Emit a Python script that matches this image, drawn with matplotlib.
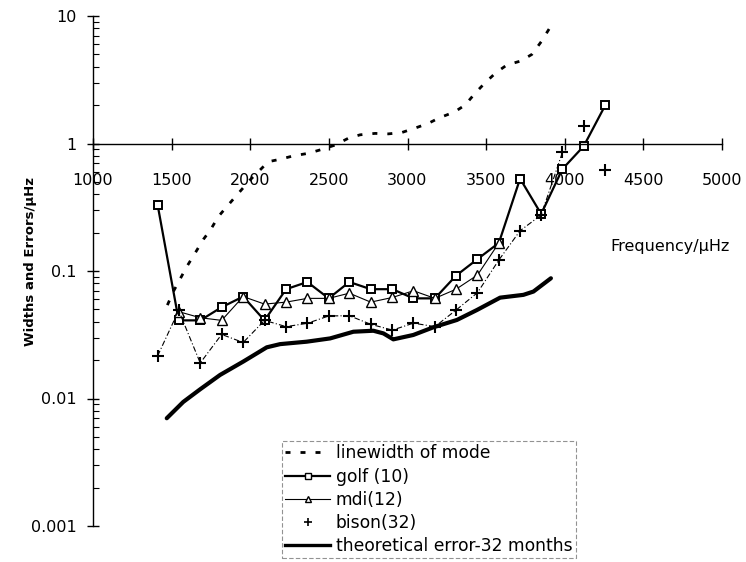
import matplotlib
matplotlib.use('Agg')
import matplotlib.pyplot as plt
from matplotlib.ticker import FixedLocator, FuncFormatter, LogLocator, NullFormatter
from matplotlib.lines import Line2D

# mode frequencies (uHz)
freq = [1411, 1545, 1682, 1818, 1955, 2091, 2228, 2363, 2499, 2630, 2766,
        2904, 3038, 3174, 3309, 3445, 3581, 3716, 3850, 3985, 4121, 4258]

golf = [0.33, 0.041, 0.041, 0.052, 0.063, 0.041, 0.072, 0.082, 0.061, 0.082, 0.072,
        0.072, 0.061, 0.061, 0.092, 0.124, 0.166, 0.53, 0.28, 0.63, 0.955, 2.0]

# mdi starts at the 2nd mode and stops at 3581
mdi = [0.048, 0.043, 0.041, 0.063, 0.055, 0.057, 0.061, 0.061, 0.067, 0.057,
       0.062, 0.070, 0.061, 0.072, 0.093, 0.166]

# bison: connected up to 3985, then two loose points
bison = [0.0216, 0.049, 0.019, 0.0318, 0.0275, 0.041, 0.0366, 0.0389, 0.0444, 0.0446,
         0.0382, 0.0344, 0.039, 0.0366, 0.0494, 0.0676, 0.122, 0.207, 0.275, 0.85]
bison_loose = [1.38, 0.62]

lw_freq = [1473, 1511, 1596, 1649, 1702, 1749, 1797, 1850, 1924, 1999, 2115, 2190,
           2274, 2370, 2465, 2540, 2624, 2699, 2794, 2879, 2964, 3048, 3133, 3207,
           3296, 3366, 3430, 3494, 3562, 3632, 3721, 3791, 3850, 3907]
linewidth = [0.054, 0.069, 0.108, 0.138, 0.177, 0.212, 0.267, 0.319, 0.406, 0.518,
             0.72, 0.752, 0.80, 0.838, 0.906, 0.973, 1.10, 1.17, 1.20, 1.19, 1.22,
             1.32, 1.44, 1.60, 1.76, 2.0, 2.48, 3.0, 3.59, 4.13, 4.44, 5.0, 6.28, 8.15]

th_freq = [1469, 1574, 1681, 1808, 1956, 2105, 2190, 2359, 2508, 2656, 2783, 2847,
           2910, 3037, 3165, 3314, 3441, 3589, 3737, 3801, 3912]
theory = [0.0070, 0.0094, 0.0118, 0.0153, 0.0195, 0.0252, 0.0267, 0.0279, 0.0296,
          0.0334, 0.034, 0.0324, 0.0291, 0.0315, 0.0362, 0.0413, 0.0494, 0.0618,
          0.065, 0.069, 0.0877]

x_ticks = [1000, 1500, 2000, 2500, 3000, 3500, 4000, 4500, 5000]

plt.rcParams['font.family'] = ['DejaVu Sans']

fig = plt.figure(figsize=(7.46, 5.62), dpi=100)
ax = fig.add_axes([93 / 746, 1 - 526 / 562, 629 / 746, 510 / 562])

ax.plot(lw_freq, linewidth, color='black', lw=2.0, linestyle=(0, (1.8, 3.6)))
ax.plot(freq, golf, color='black', lw=1.6, marker='s', ms=6, mfc='white', mec='black', mew=1.4)
ax.plot(freq[1:1 + len(mdi)], mdi, color='black', lw=0.8, marker='^', ms=6.5, mfc='white',
        mec='black', mew=1.0)
ax.plot(freq[:len(bison)], bison, color='black', lw=0.8, linestyle=(0, (5, 2, 1, 2)),
        marker='+', ms=8, mew=1.5)
ax.plot(freq[len(bison):], bison_loose, linestyle='none', color='black', marker='+', ms=8, mew=1.5)
ax.plot(th_freq, theory, color='black', lw=3.0, solid_capstyle='round')

ax.set_yscale('log')
ax.set_xlim(1000, 5000)
ax.set_ylim(0.001, 10)

ax.spines['top'].set_visible(False)
ax.spines['right'].set_visible(False)
ax.spines['bottom'].set_position(('data', 1))
ax.spines['bottom'].set_linewidth(1.0)
ax.spines['left'].set_linewidth(1.0)

ax.xaxis.set_major_locator(FixedLocator(x_ticks))
ax.tick_params(axis='x', direction='inout', length=8, width=1, pad=17, labelsize=11.5)
ax.tick_params(axis='y', which='major', direction='inout', length=8, width=1, pad=8,
               labelsize=11.5)
ax.tick_params(axis='y', which='minor', direction='in', length=4, width=0.8)
ax.yaxis.set_major_locator(LogLocator(base=10, numticks=10))
ax.yaxis.set_minor_locator(LogLocator(base=10, subs=range(2, 10), numticks=20))
ax.yaxis.set_major_formatter(FuncFormatter(lambda v, p: '%g' % v))
ax.yaxis.set_minor_formatter(NullFormatter())

ax.text((670 - 93) / 629, (526 - 247) / 510, 'Frequency/\u03bcHz', transform=ax.transAxes,
        ha='center', va='center', fontsize=11.5)
fig.text(31 / 746, 1 - 262 / 562, 'Widths and Errors/\u03bcHz', rotation=90,
         ha='center', va='center', fontsize=9.5, fontweight='bold')

handles = [
    Line2D([], [], color='black', lw=2.0, linestyle=(0, (1.8, 3.6))),
    Line2D([], [], color='black', lw=1.6, marker='s', ms=4, mfc='white', mec='black'),
    Line2D([], [], color='black', lw=0.8, marker='^', ms=4, mfc='white', mec='black'),
    Line2D([], [], color='black', lw=0.8, linestyle='none', marker='+', ms=6, mew=1.2),
    Line2D([], [], color='black', lw=2.4),
]
labels = ['linewidth of mode', 'golf (10)', 'mdi(12)', 'bison(32)', 'theoretical error-32 months']
leg = fig.legend(handles, labels, loc='upper left', bbox_to_anchor=(282 / 746, 1 - 441 / 562),
                 frameon=True, fancybox=False, fontsize=12.3, labelspacing=0.3,
                 handlelength=2.6, handletextpad=0.35, borderpad=0.2, borderaxespad=0)
leg.get_frame().set_edgecolor('#777777')
leg.get_frame().set_linestyle((0, (4, 2)))
leg.get_frame().set_linewidth(0.8)

fig.savefig('out.png', dpi=100, facecolor='white')
